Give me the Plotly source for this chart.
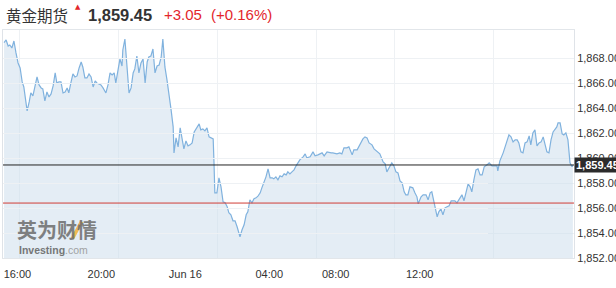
import plotly.graph_objects as go

# ---- data (minutes of trading time since 16:00; gold futures price) ----
minutes = [
    -37, -32, -27, -23, -18, -13, -8, -3, 2, 7, 11, 19,
    24, 28, 33, 38, 43, 48, 53, 57, 62, 67, 72, 77, 82, 87, 91, 96, 101, 106, 111, 116,
    120, 125, 130, 135, 140, 145, 150, 154, 159, 164, 169, 174, 179, 184, 188, 193, 198, 203,
    210, 215, 220, 225, 230, 234, 239, 244, 249, 251,
    256, 261, 266, 271, 276, 280, 285, 290, 295, 300, 305, 310, 314, 319, 324, 329, 334, 339,
    344, 348, 353, 358, 363, 368, 373,
    375, 380, 385, 390, 394, 399, 404, 409, 414, 419, 424, 431, 436, 440, 445, 450, 455, 460,
    465, 470, 472, 474,
    479, 484, 489, 494, 499, 504, 508, 513, 518, 523, 528, 533, 535,
    540, 545, 550, 554, 559, 564, 569, 574, 579, 584, 588, 593, 598, 603, 608, 613, 617, 622,
    627, 632, 637, 642, 647, 651, 656, 661, 666, 671, 676, 680,
    688, 693, 697, 705, 712, 717, 724, 734, 739, 746, 756, 760, 770, 777, 782, 787, 794, 799,
    807, 811, 819, 826, 833, 838, 843, 848, 855, 860, 865, 870, 874, 882, 887, 891, 896, 903,
    908, 913, 918, 923, 928, 933, 937, 942, 947, 954, 959, 964, 967, 974,
    979, 986, 991, 996, 1000, 1005, 1013, 1017, 1022, 1027, 1032, 1037, 1042, 1047, 1051, 1056,
    1061, 1066, 1073, 1078, 1083, 1088, 1093, 1097, 1102, 1107, 1112, 1117, 1122, 1127, 1134,
    1139, 1146, 1151, 1158, 1160, 1165, 1173, 1177, 1182, 1187, 1192, 1197, 1202, 1207, 1211,
    1216, 1221, 1226, 1231,
    1236, 1240, 1245, 1250, 1255, 1260, 1265, 1270, 1274, 1279, 1284, 1289, 1294, 1299, 1303,
    1306, 1311, 1316, 1320, 1325, 1330, 1335, 1340, 1342,
]

prices = [
    1869.25, 1869.46, 1868.98, 1869.06, 1868.82, 1869.38, 1868.42, 1867.62, 1867.22, 1866.10, 1865.70, 1863.78,
    1864.50, 1865.22, 1864.98, 1865.86, 1866.50, 1865.86, 1865.62, 1865.54, 1864.58, 1865.30, 1864.90, 1865.14,
    1865.78, 1866.82, 1866.02, 1866.10, 1866.10, 1865.22, 1865.30, 1865.62, 1865.22, 1866.02, 1866.74, 1866.50,
    1866.58, 1867.22, 1867.70, 1867.30, 1866.42, 1866.42, 1866.74, 1866.50, 1865.70, 1866.18, 1866.02, 1865.94,
    1865.86, 1865.62,
    1865.22, 1865.86, 1866.82, 1866.66, 1866.82, 1866.02, 1867.14, 1867.94, 1867.38, 1868.66,
    1869.54, 1867.30, 1865.22, 1865.62, 1866.82, 1867.14, 1868.18, 1866.82, 1867.62, 1867.94, 1866.02, 1867.70,
    1868.10, 1868.18, 1868.74, 1866.82, 1867.38, 1867.46, 1868.10, 1869.54, 1867.30, 1866.26, 1865.22, 1863.86,
    1862.50,
    1860.42, 1861.62, 1860.90, 1862.42, 1861.70, 1860.74, 1861.38, 1860.98, 1861.06, 1861.22, 1862.10, 1862.50,
    1862.74, 1862.26, 1862.34, 1862.18, 1862.42, 1861.70, 1861.62, 1861.54, 1859.62, 1857.22,
    1857.22, 1858.42, 1857.70, 1856.50, 1856.42, 1856.10, 1855.62, 1855.46, 1854.98, 1854.98, 1854.50, 1853.78,
    1853.70, 1854.26, 1854.66, 1855.46, 1855.70, 1856.66, 1856.42, 1856.74, 1856.82, 1856.98, 1857.22, 1857.62,
    1858.02, 1858.50, 1859.14, 1858.42, 1858.42, 1858.34, 1858.50, 1858.26, 1858.58, 1858.50, 1858.74, 1858.66,
    1858.90, 1858.74, 1858.90, 1859.06, 1859.38, 1859.62, 1859.86,
    1860.10, 1860.34, 1860.02, 1860.10, 1860.50, 1860.18, 1860.26, 1860.42, 1860.18, 1860.50, 1860.42, 1860.42,
    1860.34, 1860.42, 1860.34, 1860.82, 1860.82, 1860.90, 1860.26, 1860.66, 1860.66, 1861.06, 1861.54, 1861.70,
    1861.62, 1861.22, 1861.06, 1860.74, 1860.58, 1860.42, 1860.34, 1859.70, 1859.54, 1858.90, 1859.22, 1859.62,
    1859.38, 1858.90, 1858.82, 1858.18, 1858.02, 1857.30, 1857.06, 1857.06, 1857.70, 1857.62, 1857.22, 1856.90,
    1856.34, 1856.90,
    1857.06, 1857.06, 1856.66, 1857.22, 1857.30, 1856.42, 1855.30, 1855.70, 1855.94, 1855.46, 1856.02, 1856.10,
    1856.18, 1856.58, 1856.58, 1856.58, 1856.42, 1856.66, 1857.06, 1856.58, 1857.30, 1857.94, 1857.70, 1857.30,
    1858.26, 1859.06, 1859.14, 1858.66, 1858.66, 1859.30, 1859.46, 1859.62, 1859.38, 1859.38, 1859.38, 1858.98,
    1859.78, 1860.42, 1860.82, 1861.30, 1861.86, 1861.70, 1861.30, 1861.46, 1861.46, 1861.22, 1860.50, 1860.42,
    1861.22, 1861.30,
    1861.78, 1861.06, 1862.02, 1862.26, 1860.98, 1861.22, 1861.30, 1861.70, 1861.06, 1860.50, 1860.42, 1861.46,
    1862.10, 1862.34, 1862.50, 1862.82, 1862.82, 1861.94, 1861.86, 1862.02, 1861.46, 1859.62, 1859.30, 1859.45,
]

x_tick_vals = [0, 240, 480, 720, 910, 1150]
x_tick_labels = ["16:00", "20:00", "Jun 16", "04:00", "08:00", "12:00"]
y_tick_vals = [1852, 1854, 1856, 1858, 1860, 1862, 1864, 1866, 1868]
x_range = [-39.5, 1344.7]
y_range = [1852, 1870.26]

last_price = 1859.45
prev_close = 1856.40
title_name = "黄金期货"
price_text = "1,859.45"
change_text = "+3.05"
change_pct_text = "(+0.16%)"

RED = "#e3262b"
DARK = "#333333"
GRID = "#eef1f4"

fig = go.Figure()
fig.add_trace(go.Scatter(
    x=minutes, y=prices, mode="lines",
    line=dict(color="#80b2de", width=1.2),
    fill="tozeroy", fillcolor="rgba(205,222,236,0.55)",
    hoverinfo="skip", showlegend=False,
))
# helper trace for the label axis
fig.add_trace(go.Scatter(
    x=x_tick_vals, y=[y_range[0]] * len(x_tick_vals), xaxis="x2", yaxis="y",
    mode="markers", marker=dict(opacity=0), hoverinfo="skip", showlegend=False,
))

fig.add_shape(type="line", xref="x domain", yref="y", x0=0, x1=1,
              y0=last_price, y1=last_price, line=dict(color="#222222", width=1))
fig.add_shape(type="line", xref="x domain", yref="y", x0=0, x1=1,
              y0=prev_close, y1=prev_close, line=dict(color="#d03c36", width=1))
# orange stroke of the watermark logo
fig.add_shape(type="line", xref="paper", yref="paper", x0=0.1215, y0=0.085, x1=0.1375, y1=0.16,
              line=dict(color="rgba(240,178,55,0.85)", width=3.5))

annotations = [
    dict(text=f"<b>{price_text}</b>", xref="paper", x=1.0, xanchor="left",
         yref="y", y=last_price, yanchor="middle", showarrow=False,
         bgcolor="#2b2b2b", borderpad=1,
         font=dict(color="white", size=11, family="Liberation Sans, Arial")),
    dict(text=title_name, xref="paper", x=0.0026, xanchor="left", yref="paper", y=1.0658,
         yanchor="middle", showarrow=False,
         font=dict(color=DARK, size=15.5, family="Noto Sans CJK SC")),
    dict(text="▲", xref="paper", x=0.1322, xanchor="center", yref="paper", y=1.103,
         yanchor="middle", showarrow=False, font=dict(color=RED, size=7, family="DejaVu Sans")),
    dict(text=f"<b>{price_text}</b>", xref="paper", x=0.1454, xanchor="left", yref="paper", y=1.0658,
         yanchor="middle", showarrow=False,
         font=dict(color=DARK, size=16.5, family="Liberation Sans, Arial")),
    dict(text=change_text, xref="paper", x=0.2785, xanchor="left", yref="paper", y=1.0658,
         yanchor="middle", showarrow=False,
         font=dict(color=RED, size=15, family="Liberation Sans, Arial")),
    dict(text=change_pct_text, xref="paper", x=0.3608, xanchor="left", yref="paper", y=1.0658,
         yanchor="middle", showarrow=False,
         font=dict(color=RED, size=15, family="Liberation Sans, Arial")),
    # watermark logo
    dict(text="<b>英为财情</b>", xref="paper", x=0.0235, xanchor="left", yref="paper", y=0.125,
         yanchor="middle", showarrow=False, opacity=0.85, borderpad=0,
         font=dict(color="#6c6c6c", size=20, family="Noto Sans CJK SC")),
    dict(text="<b>Investing</b><span style='color:#9a9a9a'>.com</span>", xref="paper", x=0.0271,
         xanchor="left", yref="paper", y=0.036, yanchor="middle", showarrow=False, opacity=0.9,
         borderpad=0,
         font=dict(color="#6a6a6a", size=10.5, family="Liberation Sans, Arial")),
]

fig.update_layout(
    width=616, height=288,
    margin=dict(l=3, r=42, t=30, b=30, autoexpand=False),
    paper_bgcolor="white", plot_bgcolor="rgba(0,0,0,0)",
    showlegend=False,
    xaxis=dict(range=x_range, tickvals=x_tick_vals, showticklabels=False,
               showgrid=True, gridcolor=GRID, gridwidth=1, zeroline=False,
               showline=True, linecolor="#e2e6ea", mirror=True, ticks="", automargin=False),
    xaxis2=dict(domain=[0.001, 0.849], anchor="y", range=x_range,
                tickvals=x_tick_vals, ticktext=x_tick_labels,
                showgrid=False, zeroline=False, showline=False, automargin=False,
                ticks="outside", ticklen=6, tickcolor="rgba(0,0,0,0)",
                tickfont=dict(size=11, color=DARK, family="Liberation Sans, Arial")),
    yaxis=dict(side="right", range=y_range, tickvals=y_tick_vals, tickformat=",.2f",
               showgrid=True, gridcolor=GRID, zeroline=False, automargin=False,
               showline=True, linecolor="#dfe3e8", mirror=True, ticks="",
               tickfont=dict(size=11, color=DARK, family="Liberation Sans, Arial")),
    annotations=annotations,
)

fig.write_html("out.html")
